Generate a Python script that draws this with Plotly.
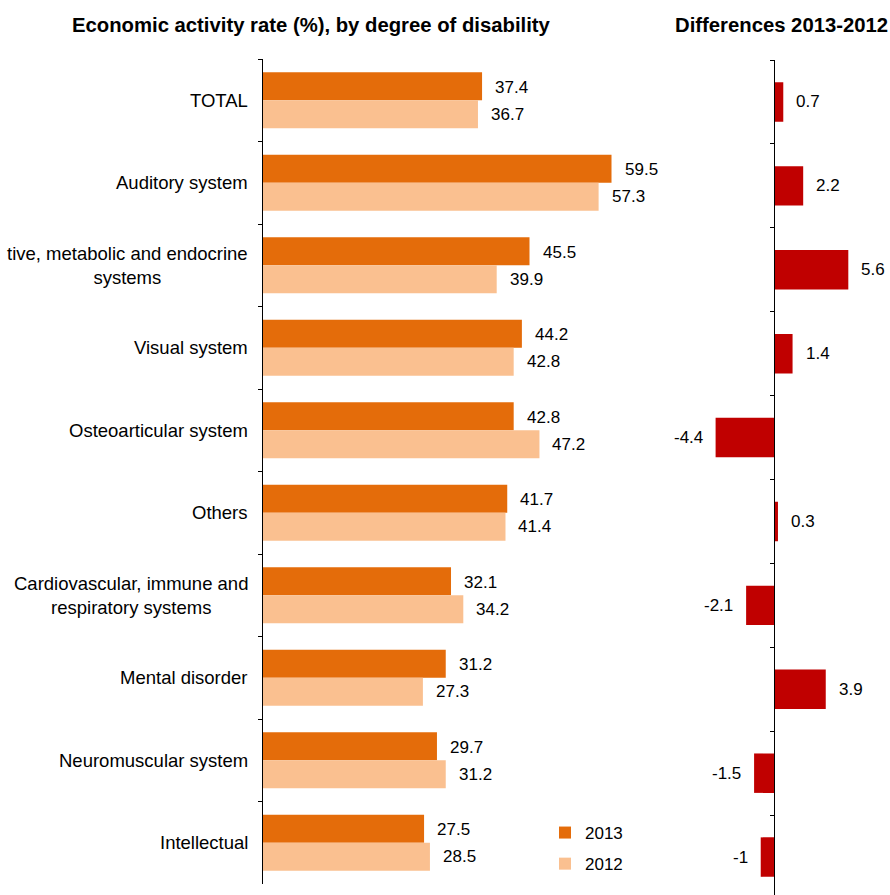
import plotly.graph_objects as go

categories = ["TOTAL", "Auditory system", "tive, metabolic and endocrine<br>systems", "Visual system",
              "Osteoarticular system", "Others", "Cardiovascular, immune and<br>respiratory systems",
              "Mental disorder", "Neuromuscular system", "Intellectual"]
rate_2013 = [37.4, 59.5, 45.5, 44.2, 42.8, 41.7, 32.1, 31.2, 29.7, 27.5]
rate_2012 = [36.7, 57.3, 39.9, 42.8, 47.2, 41.4, 34.2, 27.3, 31.2, 28.5]
diffs = [0.7, 2.2, 5.6, 1.4, -4.4, 0.3, -2.1, 3.9, -1.5, -1]

W, H = 890, 895
C2013, C2012, CDIFF = "#E46C0A", "#FAC090", "#C00000"
FONT = "Liberation Sans, Arial, sans-serif"

fig = go.Figure()
fig.add_trace(go.Bar(y=categories, x=rate_2013, orientation="h", name="2013",
                     marker=dict(color=C2013, line=dict(width=0)),
                     width=0.34, offset=-0.34, xaxis="x", yaxis="y",
                     legendgroup="a"))
fig.add_trace(go.Bar(y=categories, x=rate_2012, orientation="h", name="2012",
                     marker=dict(color=C2012, line=dict(width=0)),
                     width=0.34, offset=0.0, xaxis="x", yaxis="y",
                     legendgroup="b"))
fig.add_trace(go.Bar(y=categories, x=diffs, orientation="h", name="diff",
                     marker=dict(color=CDIFF, line=dict(width=0)),
                     width=0.47, offset=-0.235, xaxis="x2", yaxis="y2",
                     showlegend=False))

ann = []
def fmt(v):
    return f"{v:g}"

for c, v in zip(categories, rate_2013):
    ann.append(dict(x=v, y=c, xref="x", yref="y", text=fmt(v), showarrow=False,
                    xanchor="left", yanchor="middle", xshift=11, yshift=13,
                    font=dict(size=17, color="#000", family=FONT)))
for c, v in zip(categories, rate_2012):
    ann.append(dict(x=v, y=c, xref="x", yref="y", text=fmt(v), showarrow=False,
                    xanchor="left", yanchor="middle", xshift=11, yshift=-14,
                    font=dict(size=17, color="#000", family=FONT)))
for c, v in zip(categories, diffs):
    ann.append(dict(x=v, y=c, xref="x2", yref="y2", text=fmt(v), showarrow=False,
                    xanchor="left" if v >= 0 else "right", yanchor="middle",
                    xshift=11 if v >= 0 else -11,
                    font=dict(size=17, color="#000", family=FONT)))
for c in categories:
    ann.append(dict(x=0, y=c, xref="x", yref="y", text=c, showarrow=False,
                    xanchor="right", yanchor="middle", align="center", xshift=-13,
                    font=dict(size=18.5, color="#000", family=FONT)))

ann.append(dict(x=311.5 / W, y=1 - 25 / H, xref="paper", yref="paper",
                text="<b>Economic activity rate (%), by degree of disability</b>",
                showarrow=False, xanchor="center", yanchor="middle",
                font=dict(size=20.3, color="#000", family=FONT)))
ann.append(dict(x=781 / W, y=1 - 25 / H, xref="paper", yref="paper",
                text="<b>Differences 2013-2012</b>",
                showarrow=False, xanchor="center", yanchor="middle",
                font=dict(size=20.3, color="#000", family=FONT)))

fig.update_layout(
    width=W, height=H,
    margin=dict(l=0, r=0, t=0, b=0),
    paper_bgcolor="white", plot_bgcolor="white",
    barmode="overlay",
    font=dict(family=FONT, color="#000"),
    xaxis=dict(domain=[263 / W, 673 / W], range=[0, 70], visible=False, anchor="y"),
    yaxis=dict(domain=[1 - 884 / H, 1 - 59 / H], range=[9.5, -0.5], type="category",
               categoryorder="array", categoryarray=categories,
               showline=True, linecolor="#000", linewidth=1.3, ticks="outside",
               ticklen=4, tickwidth=1.2, tickcolor="#000", tickson="boundaries",
               showticklabels=False, showgrid=False, zeroline=False, anchor="x"),
    xaxis2=dict(domain=[701 / W, 886.8 / W], range=[-5.5, 8.5], visible=False, anchor="y2"),
    yaxis2=dict(domain=[0, 1 - 60 / H], range=[9.452, -0.5], type="category",
                categoryorder="array", categoryarray=categories,
                anchor="free", position=774 / W, side="left",
                showline=True, linecolor="#000", linewidth=1.3, ticks="outside",
                ticklen=4, tickwidth=1.2, tickcolor="#000", tickson="boundaries",
                showticklabels=False, showgrid=False, zeroline=False),
    legend=dict(x=545 / W, y=1 - 815 / H, xanchor="left", yanchor="top",
                font=dict(size=17, color="#000", family=FONT),
                bgcolor="rgba(0,0,0,0)", traceorder="grouped", tracegroupgap=6),
    showlegend=True,
    annotations=ann,
)

fig.write_html("out.html", config={"displayModeBar": False},
               post_script="document.body.style.margin='0';document.body.style.overflow='hidden';")
